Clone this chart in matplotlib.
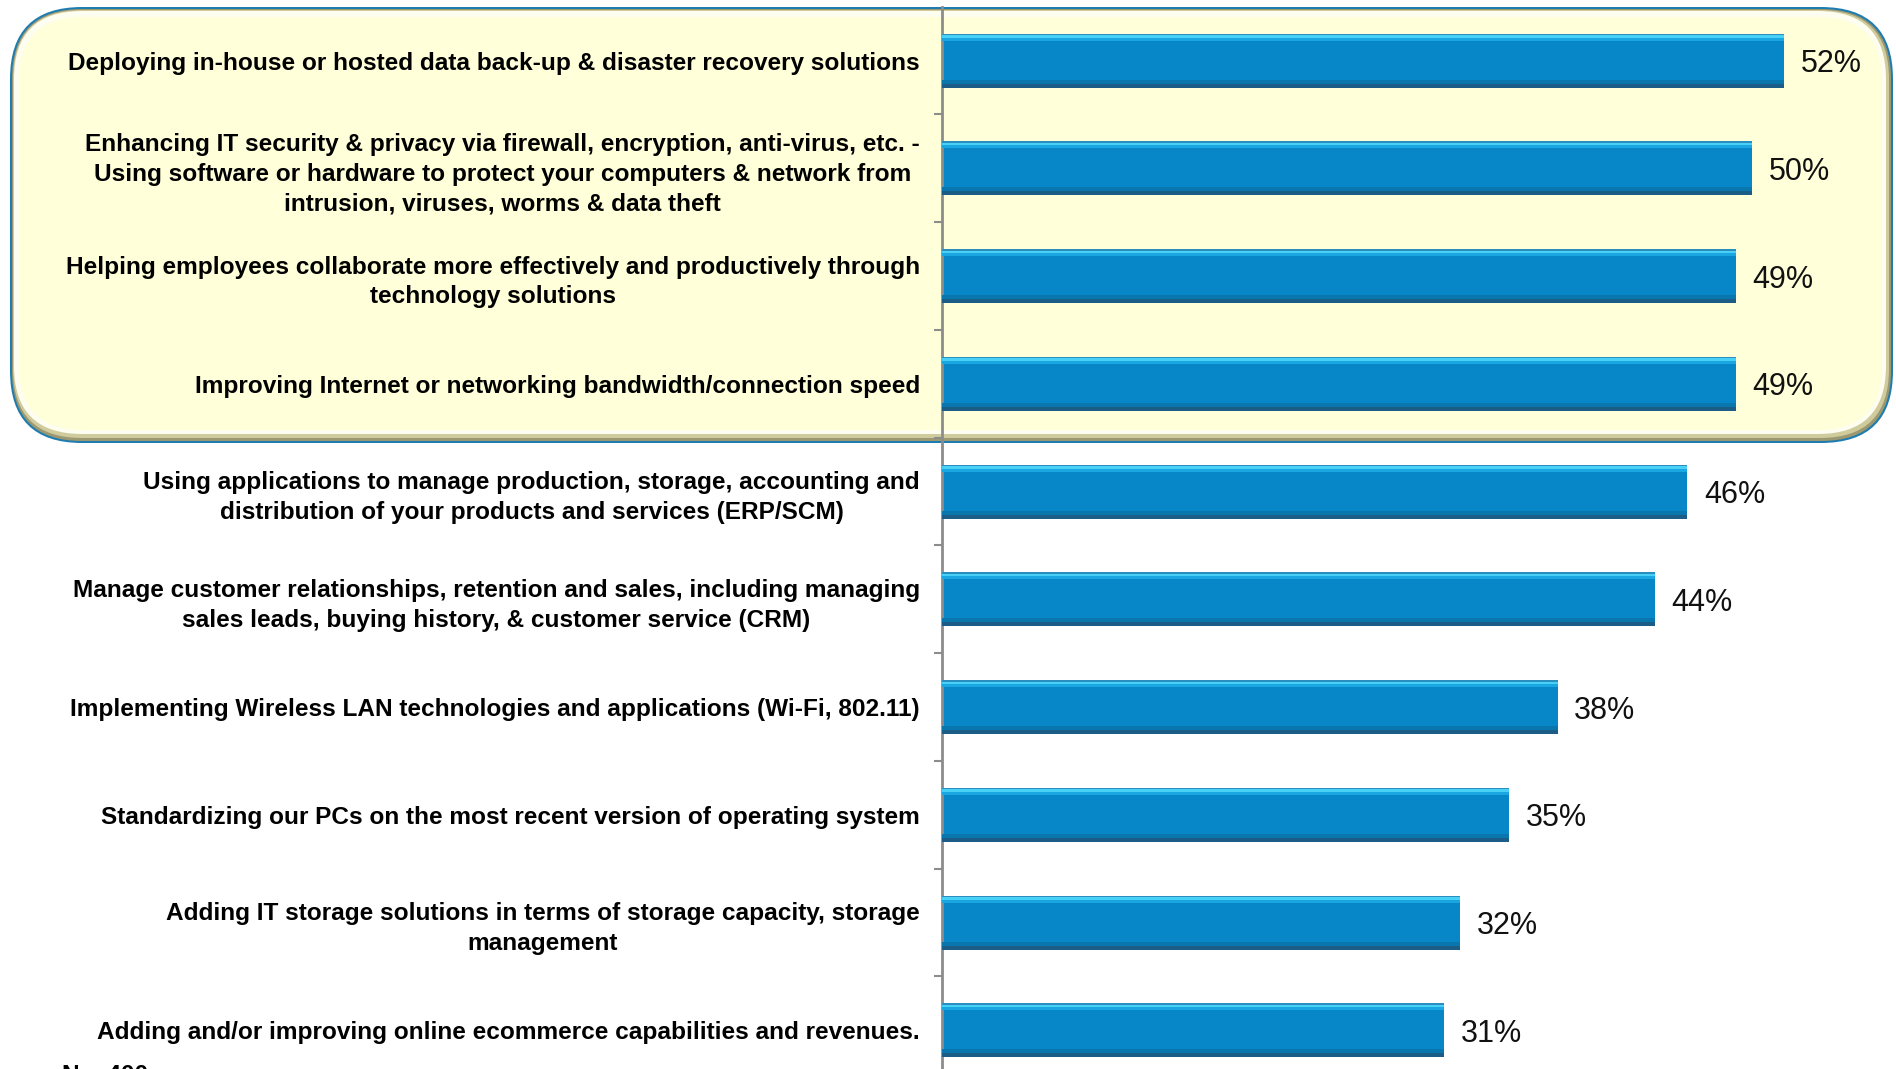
import numpy as np
import matplotlib.pyplot as plt
from matplotlib.patches import FancyBboxPatch

# Prioridades de inversión en TI (porcentaje de empresas)
labels = [
    "Deploying in-house or hosted data back-up & disaster recovery solutions",
    "Enhancing IT security & privacy via firewall, encryption, anti-virus, etc. -\n"
    "Using software or hardware to protect your computers & network from\n"
    "intrusion, viruses, worms & data theft",
    "Helping employees collaborate more effectively and productively through\n"
    "technology solutions",
    "Improving Internet or networking bandwidth/connection speed",
    "Using applications to manage production, storage, accounting and\n"
    "distribution of your products and services (ERP/SCM)",
    "Manage customer relationships, retention and sales, including managing\n"
    "sales leads, buying history, & customer service (CRM)",
    "Implementing Wireless LAN technologies and applications (Wi-Fi, 802.11)",
    "Standardizing our PCs on the most recent version of operating system",
    "Adding IT storage solutions in terms of storage capacity, storage\n"
    "management",
    "Adding and/or improving online ecommerce capabilities and revenues.",
]
values = [52, 50, 49, 49, 46, 44, 38, 35, 32, 31]
base_note = "N = 400"

W, H = 1896, 1069
fig = plt.figure(figsize=(W / 100, H / 100), dpi=100)
fig.patch.set_facecolor("white")

# Fondo con el recuadro redondeado (coordenadas en pixeles)
bg = fig.add_axes([0, 0, 1, 1], zorder=0)
bg.set_xlim(0, W)
bg.set_ylim(H, 0)
bg.axis("off")

capas = [
    (10, 7, 1893, 443, 72, "#1e7cb0"),
    (12, 9, 1891, 441, 70, "#9c9870"),
    (13, 10, 1889, 438, 69, "#cfcb9c"),
    (14, 11, 1886, 434, 68, "#fdfdf0"),
    (19, 17, 1882, 430, 64, "#ffffd9"),
]
for x0, y0, x1, y1, r, col in capas:
    p = FancyBboxPatch((x0 + r, y0 + r), (x1 - x0) - 2 * r, (y1 - y0) - 2 * r,
                       boxstyle=f"round,pad={r}", facecolor=col, edgecolor="none")
    bg.add_patch(p)

# Gráfico de barras horizontales
top_px, bot_px = 6.65, 1084.2
ax = fig.add_axes([942 / W, 1 - bot_px / H, 1 - 942 / W, (bot_px - top_px) / H], zorder=1)
ax.set_facecolor("none")

n = len(values)
y = np.arange(n)
px = n / (bot_px - top_px)  # unidades de datos por pixel (eje y)
alto = 54 * px

ax.barh(y, values, height=alto, color="#0787c8", edgecolor="none", zorder=2)
# franjas para el efecto de brillo y sombra de las barras
franjas = [
    (0, 1.5, "#2a8fbf"),
    (1.5, 2.5, "#49d0f6"),
    (4, 3, "#1aa6e0"),
    (46, 4, "#0a76ae"),
    (50, 4, "#1b5d86"),
]
for desde, grosor, col in franjas:
    centro = y - alto / 2 + (desde + grosor / 2) * px
    ax.barh(centro, values, height=grosor * px, color=col, edgecolor="none", zorder=3)

for yi, v in zip(y, values):
    ax.annotate(f"{v}%", (v, yi), xytext=(12, 0), textcoords="offset points",
                va="center_baseline", ha="left", fontsize=22, family="Liberation Sans",
                color="#111111")

ax.set_xlim(0, (W - 942) / 16.2)
ax.set_ylim(n - 0.5, -0.5)
ax.set_xticks([])
ax.set_yticks(y)
ax.set_yticklabels(labels, family="Liberation Sans", fontweight="bold", fontsize=17.6,
                   ma="center", linespacing=1.38)
ax.set_yticks(np.arange(0.5, n - 1), minor=True)
ax.tick_params(axis="y", which="major", length=0, pad=16)
ax.tick_params(axis="y", which="minor", length=6, width=1.5, color="#8c8c8c")

for s in ["top", "right", "bottom"]:
    ax.spines[s].set_visible(False)
ax.spines["left"].set_color("#8c8c8c")
ax.spines["left"].set_linewidth(2)

fig.text(62 / W, 1 - 1064 / H, base_note, ha="left", va="top", fontsize=17.6,
         fontweight="bold", family="Liberation Sans")

fig.savefig("out.png", dpi=100)
